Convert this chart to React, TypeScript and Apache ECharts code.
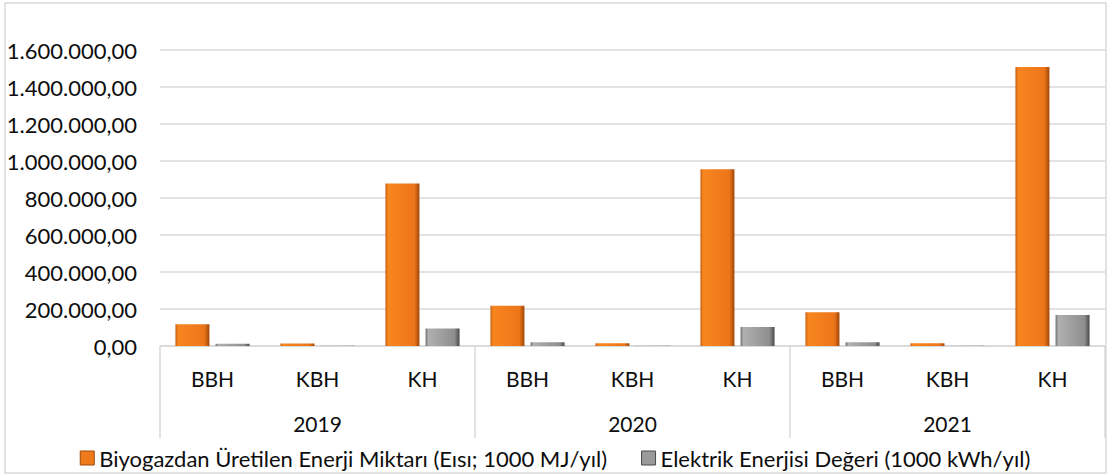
import React, { useEffect, useRef } from "react";
import * as echarts from "echarts";

const years = ["2019", "2020", "2021"];
const subCategories = ["BBH", "KBH", "KH", "BBH", "KBH", "KH", "BBH", "KBH", "KH"];
const seriesNames = [
  "Biyogazdan Üretilen Enerji Miktarı (Eısı; 1000 MJ/yıl)",
  "Elektrik Enerjisi Değeri (1000 kWh/yıl)",
];
const energyValues = [117000, 13000, 878000, 218000, 15000, 955000, 182000, 15000, 1508000];
const electricValues = [12000, 1400, 94000, 20000, 1600, 103000, 20000, 1600, 168000];

const FONT = "Lato";
const TEXT = "#0d0d0d";
const GRID = "#d9d9d9";

function formatTR(v: number): string {
  const fixed = Math.abs(v).toFixed(2);
  const [intPart, dec] = fixed.split(".");
  const withDots = intPart.replace(/\B(?=(\d{3})+(?!\d))/g, ".");
  return (v < 0 ? "-" : "") + withDots + "," + dec;
}

const orangeFill = new echarts.graphic.LinearGradient(0, 0, 1, 0, [
  { offset: 0, color: "#c85e12" },
  { offset: 0.08, color: "#f8861f" },
  { offset: 0.85, color: "#ec751a" },
  { offset: 1, color: "#a04808" },
]);
const grayFill = new echarts.graphic.LinearGradient(0, 0, 1, 0, [
  { offset: 0, color: "#6e6e6e" },
  { offset: 0.08, color: "#b0b0b0" },
  { offset: 0.85, color: "#8e8e8e" },
  { offset: 1, color: "#4a4a4a" },
]);

export default function App() {
  const ref = useRef<HTMLDivElement>(null);
  useEffect(() => {
    if (!ref.current) return;
    const chart = echarts.init(ref.current, undefined, { renderer: "svg" });
    chart.setOption({
      animation: false,
      backgroundColor: "#ffffff",
      textStyle: { fontFamily: FONT, color: TEXT },
      graphic: [
        {
          type: "rect",
          shape: { x: 5, y: 3, width: 1101, height: 470 },
          style: { fill: "none", stroke: GRID, lineWidth: 1.5 },
          silent: true,
        },
      ],
      grid: { left: 160, right: 5, top: 50, bottom: 129, containLabel: false },
      legend: {
        top: 446,
        left: "center",
        padding: 0,
        itemWidth: 14,
        itemHeight: 14,
        itemGap: 34,
        icon: "rect",
        textStyle: { fontFamily: FONT, fontSize: 22, lineHeight: 24, color: TEXT },
        data: [
          { name: seriesNames[0], itemStyle: { color: "#ef7a1c", borderColor: "#a04808", borderWidth: 1 } },
          { name: seriesNames[1], itemStyle: { color: "#9a9a9a", borderColor: "#4a4a4a", borderWidth: 1 } },
        ],
      },
      xAxis: [
        {
          type: "category",
          data: subCategories,
          position: "bottom",
          axisLine: { show: true, lineStyle: { color: GRID, width: 1.5 } },
          axisTick: { show: false },
          axisLabel: {
            interval: 0,
            margin: 22,
            fontSize: 21,
            lineHeight: 21,
            fontFamily: FONT,
            color: TEXT,
          },
        },
        {
          type: "category",
          data: years,
          position: "bottom",
          axisLine: { show: false },
          axisTick: {
            show: true,
            interval: 0,
            length: 92,
            lineStyle: { color: GRID, width: 1.5 },
          },
          axisLabel: {
            interval: 0,
            margin: 67,
            fontSize: 21,
            lineHeight: 21,
            fontFamily: FONT,
            color: TEXT,
          },
        },
      ],
      yAxis: {
        type: "value",
        min: 0,
        max: 1600000,
        interval: 200000,
        axisLine: { show: false },
        axisTick: { show: false },
        splitLine: { lineStyle: { color: GRID, width: 1.5 } },
        axisLabel: {
          margin: 23,
          fontSize: 22,
          fontFamily: FONT,
          color: TEXT,
          formatter: (v: number) => formatTR(v),
        },
      },
      series: [
        {
          name: seriesNames[0],
          type: "bar",
          xAxisIndex: 0,
          data: energyValues,
          barWidth: 34,
          barGap: "18%",
          itemStyle: { color: orangeFill },
        },
        {
          name: seriesNames[1],
          type: "bar",
          xAxisIndex: 0,
          data: electricValues,
          barWidth: 34,
          barGap: "18%",
          itemStyle: { color: grayFill },
        },
      ],
    });
    return () => chart.dispose();
  }, []);
  return (
    <div
      ref={ref}
      style={{ position: "absolute", left: 0, top: 0, width: 1110, height: 475 }}
    />
  );
}
